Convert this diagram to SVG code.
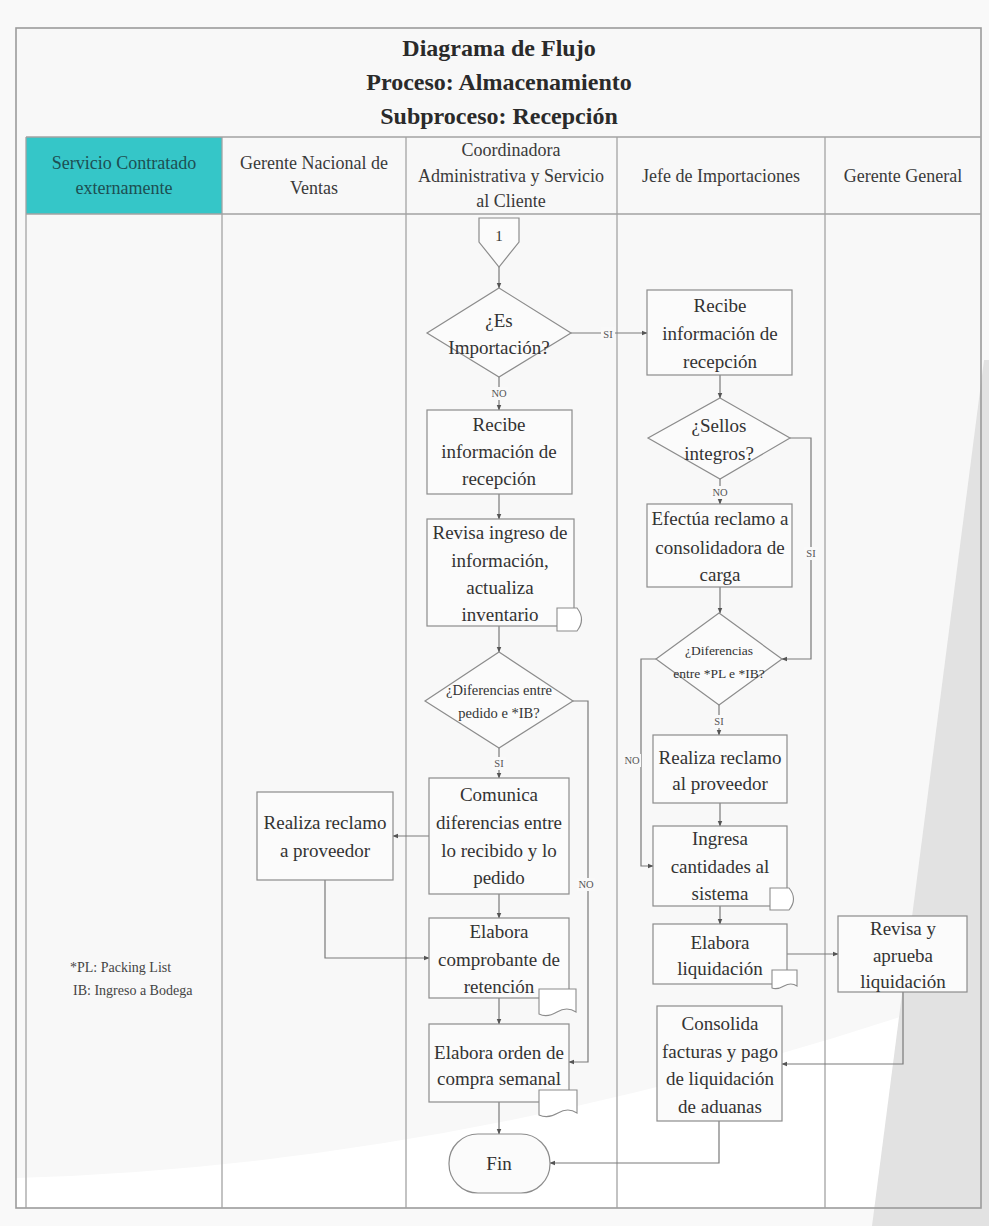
<svg xmlns="http://www.w3.org/2000/svg" width="989" height="1226" viewBox="0 0 989 1226">
<style>
.frame{fill:none;stroke:#9c9c9c;stroke-width:1.6}
.lane{stroke:#a3a3a3;stroke-width:1.3;fill:none}
.box{fill:#fbfbfb;stroke:#8c8c8c;stroke-width:1.2}
.sym{fill:#ffffff;stroke:#8c8c8c;stroke-width:1.1}
.t{font-family:"Liberation Serif","DejaVu Serif",serif;font-size:19px;fill:#333;text-anchor:middle;dominant-baseline:central}
.h{font-size:18px;fill:#3a3a3a}
.title{font-size:24px;font-weight:bold;fill:#2a2a2a}
.sm{font-size:14.5px}
.lbl{font-size:10.5px;fill:#555}
.lbg{fill:#f9f9f9}
.edge{fill:none;stroke:#7a7a7a;stroke-width:1.2;marker-end:url(#arr)}
.leg{font-family:"Liberation Serif","DejaVu Serif",serif;font-size:14px;fill:#444}
</style>
<defs>
<marker id="arr" viewBox="0 0 10 10" refX="9" refY="5" markerWidth="6" markerHeight="6" orient="auto" markerUnits="userSpaceOnUse">
<path d="M0,1 L10,5 L0,9 Z" fill="#555"/>
</marker>
</defs>
<!-- page background -->
<rect x="0" y="0" width="989" height="1226" fill="#f9f9f9"/>
<rect x="16" y="28" width="965" height="1180" fill="#f8f8f8"/>
<path d="M16,1178 Q480,1165 980,990 L980,1208 L16,1208 Z" fill="#ffffff"/>
<path d="M984,360 L989,360 L989,1226 L872,1226 Z" fill="#e2e2e2"/>

<g id="lanes">
<rect class="frame" x="16" y="28" width="965" height="1180"/>
<rect x="26" y="137" width="196" height="77" fill="#35c6c8"/>
<line class="lane" x1="26" y1="137" x2="981" y2="137"/>
<line class="lane" x1="26" y1="214" x2="981" y2="214"/>
<line class="lane" x1="26" y1="137" x2="26" y2="1208"/>
<line class="lane" x1="222" y1="137" x2="222" y2="1208"/>
<line class="lane" x1="406" y1="137" x2="406" y2="1208"/>
<line class="lane" x1="617" y1="137" x2="617" y2="1208"/>
<line class="lane" x1="825" y1="137" x2="825" y2="1208"/>
<text class="t title" x="499" y="48">Diagrama de Flujo</text>
<text class="t title" x="499" y="82">Proceso: Almacenamiento</text>
<text class="t title" x="499" y="116">Subproceso: Recepción</text>
<text class="t h" x="124" y="163" style="fill:#1d4f52">Servicio Contratado</text>
<text class="t h" x="124" y="188" style="fill:#1d4f52">externamente</text>
<text class="t h" x="314" y="163">Gerente Nacional de</text>
<text class="t h" x="314" y="188">Ventas</text>
<text class="t h" x="511" y="150">Coordinadora</text>
<text class="t h" x="511" y="176">Administrativa y Servicio</text>
<text class="t h" x="511" y="201">al Cliente</text>
<text class="t h" x="721" y="176">Jefe de Importaciones</text>
<text class="t h" x="903" y="176">Gerente General</text>
</g>

<g id="connectors">
<path class="edge" d="M499,267 V288"/>
<path class="edge" d="M571,333 H647"/>
<path class="edge" d="M499,377 V410"/>
<path class="edge" d="M499,494 V519"/>
<path class="edge" d="M499,626 V652"/>
<path class="edge" d="M499,748 V778"/>
<path class="edge" d="M573,701 H588 V1062 H569"/>
<path class="edge" d="M429,836 H393"/>
<path class="edge" d="M325,880 V958 H429"/>
<path class="edge" d="M499,894 V918"/>
<path class="edge" d="M499,998 V1024"/>
<path class="edge" d="M499,1102 V1134"/>
<path class="edge" d="M720,375 V398"/>
<path class="edge" d="M720,479 V504"/>
<path class="edge" d="M790,438 H811 V659 H782"/>
<path class="edge" d="M720,587 V613"/>
<path class="edge" d="M719,705 V735"/>
<path class="edge" d="M656,659 H641 V866 H653"/>
<path class="edge" d="M720,803 V826"/>
<path class="edge" d="M720,906 V924"/>
<path class="edge" d="M787,954 H838"/>
<path class="edge" d="M903,992 V1064 H782"/>
<path class="edge" d="M719,1121 V1163 H550"/>
<rect class="lbg" x="601" y="327" width="14" height="13"/>
<text class="t lbl" x="608" y="334">SI</text>
<rect class="lbg" x="490" y="387" width="18" height="13"/>
<text class="t lbl" x="499" y="393">NO</text>
<rect class="lbg" x="492" y="757" width="14" height="13"/>
<text class="t lbl" x="499" y="763">SI</text>
<rect class="lbg" x="577" y="878" width="18" height="13"/>
<text class="t lbl" x="586" y="884">NO</text>
<rect class="lbg" x="711" y="486" width="18" height="13"/>
<text class="t lbl" x="720" y="492">NO</text>
<rect class="lbg" x="804" y="547" width="14" height="13"/>
<text class="t lbl" x="811" y="553">SI</text>
<rect class="lbg" x="712" y="715" width="14" height="13"/>
<text class="t lbl" x="719" y="721">SI</text>
<rect class="lbg" x="623" y="754" width="18" height="13"/>
<text class="t lbl" x="632" y="760">NO</text>
</g>

<g id="n-connector1">
<path class="box" d="M479,218 H519 V242 L499,267 L479,242 Z"/>
<text class="t" x="499" y="236" style="font-size:15px">1</text>
</g>
<g id="n-es-importacion">
<path class="box" d="M499,288 L571,333 L499,377 L427,333 Z"/>
<text class="t" x="499" y="320">¿Es</text>
<text class="t" x="499" y="347">Importación?</text>
</g>
<g id="n-recibe-coord">
<rect class="box" x="427" y="410" width="145" height="84"/>
<text class="t" x="499" y="424">Recibe</text>
<text class="t" x="499" y="451">información de</text>
<text class="t" x="499" y="478">recepción</text>
</g>
<g id="n-revisa-ingreso">
<rect class="box" x="427" y="519" width="147" height="107"/>
<text class="t" x="500" y="532">Revisa ingreso de</text>
<text class="t" x="500" y="560">información,</text>
<text class="t" x="500" y="587">actualiza</text>
<text class="t" x="500" y="614">inventario</text>
<path class="sym" d="M557,608 H577 Q586,619.5 577,631 H557 Z"/>
</g>
<g id="n-dif-pedido">
<path class="box" d="M499,652 L573,701 L499,748 L425,701 Z"/>
<text class="t sm" x="499" y="690">¿Diferencias entre</text>
<text class="t sm" x="499" y="713">pedido e *IB?</text>
</g>
<g id="n-comunica">
<rect class="box" x="429" y="778" width="140" height="116"/>
<text class="t" x="499" y="794">Comunica</text>
<text class="t" x="499" y="822">diferencias entre</text>
<text class="t" x="499" y="850">lo recibido y lo</text>
<text class="t" x="499" y="877">pedido</text>
</g>
<g id="n-realiza-reclamo-gnv">
<rect class="box" x="257" y="792" width="136" height="88"/>
<text class="t" x="325" y="822">Realiza reclamo</text>
<text class="t" x="325" y="850">a proveedor</text>
</g>
<g id="n-comprobante">
<rect class="box" x="429" y="918" width="140" height="80"/>
<text class="t" x="499" y="931">Elabora</text>
<text class="t" x="499" y="959">comprobante de</text>
<text class="t" x="499" y="986">retención</text>
<path class="sym" d="M539,989 H576 V1012 Q567,1006 557,1012 T539,1014 Z"/>
</g>
<g id="n-orden">
<rect class="box" x="429" y="1024" width="140" height="78"/>
<text class="t" x="499" y="1052">Elabora orden de</text>
<text class="t" x="499" y="1078">compra semanal</text>
<path class="sym" d="M539,1090 H577 V1113 Q568,1107 558,1113 T539,1115 Z"/>
</g>
<g id="n-fin">
<rect class="box" x="449" y="1134" width="101" height="59" rx="29" ry="29"/>
<text class="t" x="499" y="1163">Fin</text>
</g>
<g id="n-recibe-jefe">
<rect class="box" x="647" y="290" width="145" height="85"/>
<text class="t" x="720" y="305">Recibe</text>
<text class="t" x="720" y="333">información de</text>
<text class="t" x="720" y="361">recepción</text>
</g>
<g id="n-sellos">
<path class="box" d="M720,398 L790,438 L720,479 L648,438 Z"/>
<text class="t" x="719" y="425">¿Sellos</text>
<text class="t" x="719" y="453">integros?</text>
</g>
<g id="n-efectua">
<rect class="box" x="647" y="504" width="145" height="83"/>
<text class="t" x="720" y="518">Efectúa reclamo a</text>
<text class="t" x="720" y="547">consolidadora de</text>
<text class="t" x="720" y="574">carga</text>
</g>
<g id="n-dif-pl">
<path class="box" d="M719,613 L782,659 L719,705 L656,659 Z"/>
<text class="t sm" x="719" y="650" style="font-size:13.5px">¿Diferencias</text>
<text class="t sm" x="719" y="673" style="font-size:13.5px">entre *PL e *IB?</text>
</g>
<g id="n-realiza-proveedor">
<rect class="box" x="653" y="735" width="134" height="68"/>
<text class="t" x="720" y="757">Realiza reclamo</text>
<text class="t" x="720" y="783">al proveedor</text>
</g>
<g id="n-ingresa">
<rect class="box" x="653" y="826" width="134" height="80"/>
<text class="t" x="720" y="838">Ingresa</text>
<text class="t" x="720" y="866">cantidades al</text>
<text class="t" x="720" y="893">sistema</text>
<path class="sym" d="M770,888 H789 Q798,899 789,910 H770 Z"/>
</g>
<g id="n-liquidacion">
<rect class="box" x="653" y="924" width="134" height="60"/>
<text class="t" x="720" y="942">Elabora</text>
<text class="t" x="720" y="968">liquidación</text>
<path class="sym" d="M772,970 H797 V986 Q791,982 784,986 T772,988 Z"/>
</g>
<g id="n-revisa-aprueba">
<rect class="box" x="838" y="916" width="129" height="76"/>
<text class="t" x="903" y="928">Revisa y</text>
<text class="t" x="903" y="955">aprueba</text>
<text class="t" x="903" y="981">liquidación</text>
</g>
<g id="n-consolida">
<rect class="box" x="657" y="1006" width="125" height="115"/>
<text class="t" x="720" y="1023">Consolida</text>
<text class="t" x="720" y="1051">facturas y pago</text>
<text class="t" x="720" y="1078">de liquidación</text>
<text class="t" x="720" y="1106">de aduanas</text>
</g>
<g id="legend">
<text class="leg" x="70" y="972">*PL: Packing List</text>
<text class="leg" x="73" y="995">IB: Ingreso a Bodega</text>
</g>
</svg>
